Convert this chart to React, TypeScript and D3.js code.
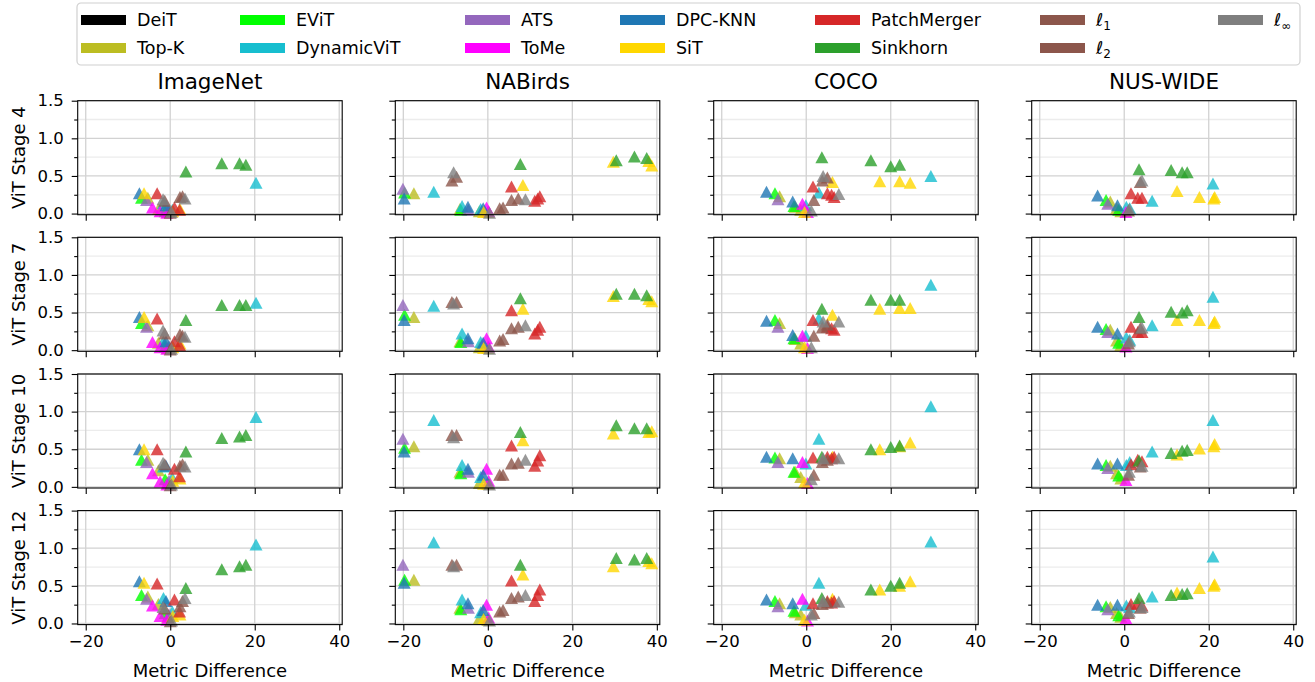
import React, { useEffect, useRef } from "react";
import * as d3 from "d3";

const datasets = ["ImageNet", "NABirds", "COCO", "NUS-WIDE"];
const stages = ["ViT Stage 4", "ViT Stage 7", "ViT Stage 10", "ViT Stage 12"];

// legend order (column-major, 7 columns x 2 rows)
const methods = ["DeiT", "Top-K", "EViT", "DynamicViT", "ATS", "ToMe", "DPC-KNN", "SiT", "PatchMerger", "Sinkhorn", "ℓ1", "ℓ2", "ℓ∞"];
const methodColors = ["#000000", "#bcbd22", "#00ff00", "#17becf", "#9467bd", "#ff00ff", "#1f77b4", "#ffd700", "#d62728", "#2ca02c", "#8c564b", "#8c564b", "#7f7f7f"];

const xTicks = [-20, 0, 20, 40];
const xTickLabels = ["−20", "0", "20", "40"];
const yTicks = [0, 0.5, 1.0, 1.5];
const yTickLabels = ["0.0", "0.5", "1.0", "1.5"];
const yMinorTicks = [0.25, 0.75, 1.25];

// [method, metric difference, y @ stage 4, stage 7, stage 10, stage 12]
const imagenetPoints = [
  ["DPC-KNN", -7.3, 0.27, 0.44, 0.5, 0.56],
  ["SiT", -6.2, 0.27, 0.44, 0.5, 0.54],
  ["EViT", -6.8, 0.21, 0.36, 0.36, 0.38],
  ["Top-K", -5.3, 0.21, 0.33, 0.36, 0.36],
  ["ATS", -5.6, 0.18, 0.31, 0.33, 0.33],
  ["PatchMerger", -3.1, 0.27, 0.42, 0.5, 0.53],
  ["ToMe", -4.2, 0.08, 0.11, 0.18, 0.24],
  ["ToMe", -2.4, 0.03, 0.04, 0.07, 0.1],
  ["ToMe", -0.8, 0.01, 0.02, 0.03, 0.05],
  ["Top-K", -2.8, 0.06, 0.1, 0.22, 0.26],
  ["Top-K", -0.6, 0.02, 0.03, 0.06, 0.09],
  ["EViT", -1.2, 0.03, 0.05, 0.1, 0.14],
  ["DynamicViT", -1.6, 0.14, 0.12, 0.27, 0.34],
  ["DynamicViT", 0.5, 0.05, 0.06, 0.12, 0.16],
  ["DPC-KNN", -1.0, 0.11, 0.12, 0.28, 0.3],
  ["ATS", -0.3, 0.04, 0.05, 0.08, 0.12],
  ["ℓ∞", -1.7, 0.19, 0.26, 0.32, 0.22],
  ["ℓ2", -1.3, 0.17, 0.22, 0.3, 0.2],
  ["ℓ1", 2.3, 0.22, 0.21, 0.28, 0.23],
  ["ℓ2", 2.9, 0.23, 0.19, 0.3, 0.3],
  ["ℓ∞", 3.5, 0.2, 0.18, 0.27, 0.34],
  ["PatchMerger", 1.0, 0.08, 0.12, 0.24, 0.32],
  ["PatchMerger", 2.2, 0.05, 0.07, 0.14, 0.16],
  ["SiT", 2.3, 0.06, 0.09, 0.11, 0.12],
  ["SiT", 0.6, 0.03, 0.04, 0.08, 0.1],
  ["ℓ1", 0.0, 0.01, 0.01, 0.02, 0.03],
  ["ℓ∞", 0.3, 0.02, 0.02, 0.03, 0.04],
  ["Sinkhorn", 3.7, 0.56, 0.4, 0.47, 0.47],
  ["Sinkhorn", 12.2, 0.67, 0.6, 0.65, 0.72],
  ["Sinkhorn", 16.4, 0.67, 0.6, 0.67, 0.76],
  ["Sinkhorn", 17.9, 0.65, 0.6, 0.69, 0.78],
  ["DynamicViT", 20.3, 0.41, 0.63, 0.93, 1.05],
];

const nabirdsPoints = [
  ["ATS", -20.1, 0.33, 0.6, 0.64, 0.78],
  ["DPC-KNN", -19.8, 0.2, 0.4, 0.47, 0.54],
  ["EViT", -19.7, 0.28, 0.47, 0.52, 0.58],
  ["Top-K", -17.5, 0.27, 0.44, 0.54, 0.58],
  ["DynamicViT", -12.8, 0.29, 0.59, 0.89, 1.08],
  ["ℓ∞", -8.1, 0.55, 0.62, 0.66, 0.76],
  ["ℓ1", -7.4, 0.49, 0.64, 0.69, 0.78],
  ["ℓ2", -8.5, 0.44, 0.64, 0.69, 0.78],
  ["Sinkhorn", 7.7, 0.66, 0.69, 0.73, 0.78],
  ["PatchMerger", 5.6, 0.36, 0.53, 0.55, 0.57],
  ["SiT", 8.3, 0.38, 0.55, 0.62, 0.65],
  ["ℓ1", 5.6, 0.18, 0.29, 0.31, 0.34],
  ["ℓ2", 7.2, 0.2, 0.31, 0.32, 0.36],
  ["ℓ∞", 8.9, 0.19, 0.33, 0.36, 0.38],
  ["PatchMerger", 11.1, 0.17, 0.22, 0.28, 0.3],
  ["PatchMerger", 12.3, 0.23, 0.31, 0.42, 0.45],
  ["PatchMerger", 11.8, 0.2, 0.27, 0.35, 0.38],
  ["DynamicViT", -6.1, 0.1, 0.22, 0.29, 0.32],
  ["DPC-KNN", -4.7, 0.09, 0.16, 0.24, 0.27],
  ["Top-K", -6.6, 0.06, 0.12, 0.2, 0.21],
  ["EViT", -6.4, 0.05, 0.11, 0.18, 0.19],
  ["ATS", -4.6, 0.05, 0.12, 0.2, 0.21],
  ["ToMe", -0.3, 0.08, 0.16, 0.24, 0.25],
  ["DynamicViT", -1.7, 0.06, 0.11, 0.13, 0.15],
  ["DPC-KNN", -1.1, 0.07, 0.1, 0.16, 0.18],
  ["ℓ1", 2.8, 0.07, 0.13, 0.16, 0.16],
  ["ℓ2", 3.6, 0.08, 0.15, 0.16, 0.18],
  ["Top-K", -2.0, 0.03, 0.04, 0.05, 0.07],
  ["SiT", -1.0, 0.02, 0.03, 0.04, 0.06],
  ["Top-K", 0.0, 0.02, 0.03, 0.04, 0.05],
  ["ToMe", 0.2, 0.03, 0.05, 0.08, 0.08],
  ["ℓ∞", 0.4, 0.01, 0.02, 0.03, 0.04],
  ["SiT", 29.7, 0.69, 0.72, 0.71, 0.76],
  ["Sinkhorn", 30.4, 0.71, 0.75, 0.82, 0.87],
  ["Sinkhorn", 34.7, 0.76, 0.75, 0.78, 0.85],
  ["Sinkhorn", 37.6, 0.74, 0.73, 0.78, 0.87],
  ["SiT", 38.1, 0.7, 0.68, 0.73, 0.83],
  ["SiT", 38.8, 0.64, 0.65, 0.74, 0.8],
];

const cocoPoints = [
  ["DPC-KNN", -9.4, 0.29, 0.39, 0.4, 0.32],
  ["EViT", -7.4, 0.27, 0.4, 0.39, 0.3],
  ["Top-K", -6.3, 0.23, 0.36, 0.38, 0.27],
  ["ATS", -6.7, 0.19, 0.31, 0.33, 0.23],
  ["DPC-KNN", -3.2, 0.16, 0.2, 0.38, 0.27],
  ["EViT", -2.9, 0.1, 0.16, 0.2, 0.17],
  ["Top-K", -2.6, 0.09, 0.15, 0.2, 0.15],
  ["ToMe", -0.9, 0.13, 0.19, 0.33, 0.33],
  ["DynamicViT", -0.1, 0.11, 0.19, 0.31, 0.25],
  ["Top-K", -1.3, 0.05, 0.09, 0.13, 0.12],
  ["SiT", -0.4, 0.02, 0.04, 0.06, 0.05],
  ["ToMe", 0.3, 0.02, 0.03, 0.05, 0.04],
  ["ℓ∞", 1.2, 0.04, 0.04, 0.1, 0.12],
  ["ℓ1", 1.8, 0.18, 0.19, 0.16, 0.14],
  ["DynamicViT", 3.0, 0.28, 0.42, 0.64, 0.54],
  ["PatchMerger", 1.6, 0.36, 0.4, 0.39, 0.27],
  ["Sinkhorn", 3.7, 0.75, 0.55, 0.4, 0.34],
  ["ℓ∞", 4.0, 0.5, 0.38, 0.38, 0.3],
  ["ℓ2", 5.0, 0.48, 0.34, 0.36, 0.28],
  ["ℓ1", 3.8, 0.44, 0.3, 0.33, 0.26],
  ["SiT", 6.2, 0.42, 0.47, 0.4, 0.33],
  ["PatchMerger", 5.0, 0.27, 0.31, 0.4, 0.3],
  ["PatchMerger", 6.6, 0.22, 0.27, 0.4, 0.3],
  ["PatchMerger", 6.0, 0.25, 0.29, 0.38, 0.28],
  ["ℓ∞", 7.7, 0.26, 0.38, 0.38, 0.29],
  ["Sinkhorn", 15.3, 0.71, 0.67, 0.5, 0.45],
  ["SiT", 17.4, 0.43, 0.55, 0.5, 0.45],
  ["Sinkhorn", 20.0, 0.63, 0.67, 0.53, 0.5],
  ["Sinkhorn", 22.1, 0.65, 0.67, 0.55, 0.54],
  ["SiT", 22.1, 0.43, 0.56, 0.54, 0.5],
  ["SiT", 24.6, 0.41, 0.56, 0.59, 0.56],
  ["DynamicViT", 29.5, 0.5, 0.87, 1.07, 1.09],
];

const nuswidePoints = [
  ["DPC-KNN", -6.3, 0.24, 0.31, 0.31, 0.25],
  ["EViT", -4.3, 0.18, 0.28, 0.29, 0.23],
  ["Top-K", -3.3, 0.16, 0.27, 0.28, 0.22],
  ["ATS", -3.9, 0.13, 0.24, 0.25, 0.19],
  ["DPC-KNN", -1.6, 0.11, 0.22, 0.31, 0.25],
  ["Top-K", -1.8, 0.07, 0.13, 0.18, 0.14],
  ["EViT", -1.3, 0.05, 0.1, 0.15, 0.11],
  ["Top-K", -0.8, 0.03, 0.07, 0.11, 0.09],
  ["ToMe", 0.4, 0.02, 0.05, 0.09, 0.07],
  ["DynamicViT", 0.5, 0.09, 0.17, 0.29, 0.24],
  ["ℓ∞", 1.2, 0.06, 0.12, 0.2, 0.16],
  ["ℓ1", 1.0, 0.04, 0.09, 0.16, 0.14],
  ["DynamicViT", 1.3, 0.07, 0.14, 0.33, 0.22],
  ["PatchMerger", 1.6, 0.27, 0.31, 0.3, 0.26],
  ["Sinkhorn", 3.5, 0.59, 0.44, 0.35, 0.34],
  ["ℓ2", 3.8, 0.42, 0.29, 0.27, 0.21],
  ["ℓ∞", 4.2, 0.44, 0.3, 0.28, 0.22],
  ["PatchMerger", 3.2, 0.21, 0.24, 0.36, 0.27],
  ["PatchMerger", 4.2, 0.21, 0.24, 0.34, 0.24],
  ["DynamicViT", 6.6, 0.17, 0.33, 0.47, 0.36],
  ["Sinkhorn", 11.1, 0.58, 0.51, 0.45, 0.38],
  ["SiT", 12.5, 0.3, 0.4, 0.43, 0.41],
  ["Sinkhorn", 13.7, 0.55, 0.5, 0.48, 0.39],
  ["Sinkhorn", 14.9, 0.55, 0.53, 0.49, 0.4],
  ["SiT", 17.8, 0.22, 0.4, 0.51, 0.47],
  ["SiT", 21.4, 0.22, 0.38, 0.57, 0.52],
  ["SiT", 21.2, 0.2, 0.36, 0.54, 0.5],
  ["DynamicViT", 21.0, 0.4, 0.71, 0.89, 0.89],
];

const pointsByDataset = [imagenetPoints, nabirdsPoints, cocoPoints, nuswidePoints];

const W = 1315;
const H = 682;
const colLeft = [77.7, 395.3, 713.7, 1031.7];
const rowTop = [100.7, 237.3, 374, 510.6];
const panelW = 264.5;
const panelH = 114;
const FONT = "DejaVu Sans, sans-serif";

// legend column x positions (handle start)
const legendCols = [81, 240, 465, 620, 815, 1040, 1218];

const App = () => {
  const svgRef = useRef<SVGSVGElement>(null);

  useEffect(() => {
    document.body.style.margin = "0";
    const svg = d3.select(svgRef.current);
    svg.selectAll("*").remove();
    svg.attr("width", W).attr("height", H).style("font-family", FONT);

    svg.append("rect").attr("width", W).attr("height", H).attr("fill", "white");

    const x = d3.scaleLinear().domain([-21.9, 40.7]).range([0, panelW]);
    const y = d3.scaleLinear().domain([-0.015, 1.5]).range([panelH, 0]);
    const colorOf = d3.scaleOrdinal<string, string>().domain(methods).range(methodColors);
    const order = (m: string) => methods.indexOf(m);

    const tri = (cx: number, cy: number) => {
      const w = 13, h = 12;
      return `M${cx},${cy - h / 2}L${cx + w / 2},${cy + h / 2}L${cx - w / 2},${cy + h / 2}Z`;
    };

    stages.forEach((stage, r) => {
      datasets.forEach((ds, c) => {
        const g = svg.append("g").attr("transform", `translate(${colLeft[c]},${rowTop[r]})`);

        // grid
        g.selectAll(".yminor").data(yMinorTicks).enter().append("line")
          .attr("x1", 0).attr("x2", panelW)
          .attr("y1", d => y(d)).attr("y2", d => y(d))
          .attr("stroke", "#ececec").attr("stroke-width", 1.3);
        g.selectAll(".ymajor").data(yTicks).enter().append("line")
          .attr("x1", 0).attr("x2", panelW)
          .attr("y1", d => y(d)).attr("y2", d => y(d))
          .attr("stroke", "#d2d2d2").attr("stroke-width", 1.3);
        g.selectAll(".xmajor").data(xTicks).enter().append("line")
          .attr("x1", d => x(d)).attr("x2", d => x(d))
          .attr("y1", 0).attr("y2", panelH)
          .attr("stroke", "#d2d2d2").attr("stroke-width", 1.3);

        // points
        const rows = (pointsByDataset[c] as any[]).slice()
          .sort((a, b) => order(a[0]) - order(b[0]));
        g.append("g").selectAll("path").data(rows).enter().append("path")
          .attr("d", d => tri(x(d[1]), y(d[2 + r])))
          .attr("fill", d => colorOf(d[0]))
          .attr("fill-opacity", 0.8);

        // axes
        const xAxis = g.append("g").attr("transform", `translate(0,${panelH})`)
          .call(d3.axisBottom(x).tickValues(xTicks).tickSize(6).tickPadding(5).tickSizeOuter(0)
            .tickFormat((d, i) => (r === 3 ? xTickLabels[i] : "")));
        const yAxis = g.append("g")
          .call(d3.axisLeft(y).tickValues(yTicks).tickSize(6).tickPadding(8).tickSizeOuter(0)
            .tickFormat((d, i) => (c === 0 ? yTickLabels[i] : "")));
        const yMinor = g.append("g")
          .call(d3.axisLeft(y).tickValues(yMinorTicks).tickSize(3.5).tickSizeOuter(0).tickFormat(() => ""));
        [xAxis, yAxis, yMinor].forEach(a => {
          a.select(".domain").remove();
          a.selectAll("line").attr("stroke", "#000").attr("stroke-width", 1.1);
          a.selectAll("text").attr("font-family", FONT).attr("font-size", 16.5).attr("fill", "#000");
        });

        // spines
        g.append("rect").attr("width", panelW).attr("height", panelH)
          .attr("fill", "none").attr("stroke", "#000").attr("stroke-width", 1.1);

        if (r === 0) {
          g.append("text").attr("x", panelW / 2).attr("y", -11.7)
            .attr("text-anchor", "middle").attr("font-size", 21.5).text(ds);
        }
        if (r === 3) {
          g.append("text").attr("x", panelW / 2).attr("y", panelH + 52.5)
            .attr("text-anchor", "middle").attr("font-size", 18).text("Metric Difference");
        }
        if (c === 0) {
          g.append("text")
            .attr("transform", `translate(${25.5 - colLeft[0]},${panelH / 2}) rotate(-90)`)
            .attr("text-anchor", "middle").attr("font-size", 18).text(stage);
        }
      });
    });

    // legend
    const lg = svg.append("g");
    lg.append("rect").attr("x", 77).attr("y", 3).attr("width", 1223).attr("height", 62)
      .attr("rx", 4).attr("fill", "white").attr("stroke", "#d0d0d0").attr("stroke-width", 1.2);
    methods.forEach((m, i) => {
      const col = Math.floor(i / 2);
      const row = i % 2;
      const hx = legendCols[col];
      const cy = row === 0 ? 20 : 48;
      lg.append("rect").attr("x", hx).attr("y", cy - 5).attr("width", 45).attr("height", 10)
        .attr("fill", colorOf(m));
      const t = lg.append("text").attr("x", hx + 56).attr("y", cy + 6.3).attr("font-size", 17.5);
      if (m.startsWith("ℓ")) {
        t.append("tspan").attr("font-style", "italic").text("ℓ");
        t.append("tspan").attr("font-size", 12).attr("dy", 4).text(m.slice(1));
      } else {
        t.text(m);
      }
    });
  }, []);

  return (
    <div>
      <svg ref={svgRef} style={{ display: "block" }}></svg>
    </div>
  );
};

export default App;
